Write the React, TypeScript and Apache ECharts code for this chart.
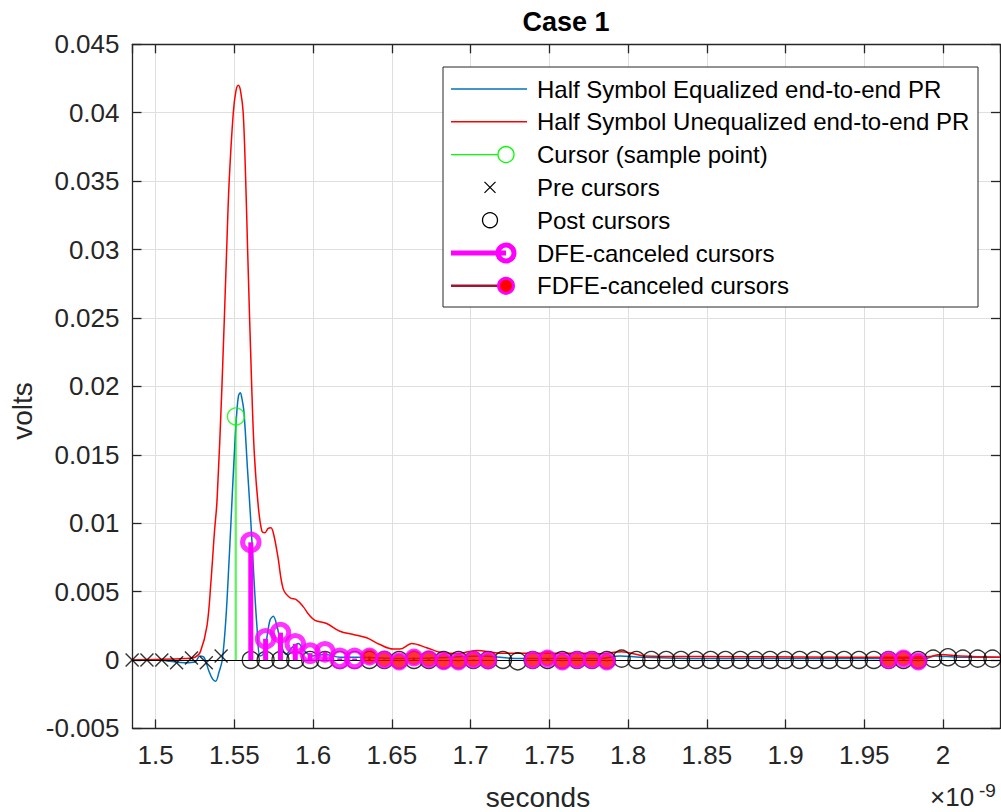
import React, { useEffect, useRef } from 'react';
import * as echarts from 'echarts';

const FONT = "'Liberation Sans', Arial, Helvetica, sans-serif";

const xMin = 1.4853;
const xMax = 2.0362;
const yMin = -0.005;
const yMax = 0.045;

// Half Symbol Equalized end-to-end PR (time in ns, volts)
const eqTime = [1.4853, 1.5027, 1.5091, 1.5186, 1.525, 1.5281, 1.5307, 1.5338, 1.5362, 1.5381, 1.5402, 1.5423, 1.5446, 1.5466, 1.5478, 1.5497, 1.5514, 1.5526, 1.5537, 1.5548, 1.5561, 1.5583, 1.5605, 1.5624, 1.5643, 1.5662, 1.5681, 1.57, 1.5726, 1.5747, 1.577, 1.5796, 1.5828, 1.5866, 1.5906, 1.5942, 1.5993, 1.6075, 1.6171, 1.6298, 1.6552, 1.6869, 1.706, 1.7314, 1.7822, 1.7949, 1.8076, 1.8457, 1.9092, 1.9727, 1.9886, 1.9949, 2.0108, 2.0362];
const eqVolts = [0, 0, -0.0001, -0.0002, -0.00015, 0.0003, 0.0002, -0.0008, -0.0014, -0.00155, -0.0009, 0, 0.003, 0.0072, 0.01, 0.0145, 0.0179, 0.0193, 0.01953, 0.0191, 0.0181, 0.014, 0.01, 0.006, 0.0025, 0.0003, 0.0004, 0.0012, 0.0029, 0.0032, 0.0025, 0.0012, 0.0004, 0.0009, 0.0012, 0.0007, 0.0003, 0.0004, 0.0002, 0.0002, 0.0001, 0.0002, 0.0003, 0.0001, 0.0001, 0.0003, 0.0002, 0.0001, 0.0001, 0.0001, 0.0001, 0.0003, 0.0002, 0.0002];

// Half Symbol Unequalized end-to-end PR
const uneqTime = [1.4853, 1.5186, 1.525, 1.5284, 1.5326, 1.5351, 1.5373, 1.539, 1.5421, 1.5451, 1.5467, 1.5493, 1.551, 1.5525, 1.5539, 1.5556, 1.5572, 1.5584, 1.561, 1.5627, 1.5652, 1.5675, 1.5694, 1.5713, 1.5732, 1.5751, 1.5777, 1.581, 1.5853, 1.5895, 1.5937, 1.5974, 1.6012, 1.6086, 1.617, 1.6255, 1.634, 1.6424, 1.6509, 1.6552, 1.6626, 1.6721, 1.6806, 1.6912, 1.7039, 1.7187, 1.7441, 1.7759, 1.7822, 1.7959, 1.8106, 1.8457, 1.9092, 1.9727, 1.9918, 1.9981, 2.0108, 2.0362];
const uneqVolts = [0, 0.0001, 0.0002, 0.0006, 0.0025, 0.0057, 0.0093, 0.0117, 0.02, 0.03, 0.035, 0.04, 0.0416, 0.042, 0.0416, 0.04, 0.035, 0.03, 0.02, 0.015, 0.0112, 0.0094, 0.0093, 0.0096, 0.00966, 0.0091, 0.0075, 0.0052, 0.00455, 0.0044, 0.0039, 0.0033, 0.0029, 0.00267, 0.0021, 0.00186, 0.00162, 0.00113, 0.0008, 0.0008, 0.0012, 0.0009, 0.00057, 0.00047, 0.0007, 0.0005, 0.0005, 0.0005, 0.00045, 0.0006, 0.0003, 0.00025, 0.00022, 0.0002, 0.00025, 0.0004, 0.0003, 0.0002];

// Cursor (sample point)
const cursorTime = [1.551];
const cursorVolts = [0.0178];

// Pre cursors
const preTimes = [1.48506, 1.49448, 1.5039, 1.51332, 1.52274, 1.53216, 1.54158];
const preVolts = [0, 0, 0, -0.0002, 0.00015, -0.0002, 0.0003];

// Post cursors
const postTimes = [1.56042, 1.56984, 1.57926, 1.58868, 1.5981, 1.60752, 1.61694, 1.62636, 1.63578, 1.6452, 1.65462, 1.66404, 1.67346, 1.68288, 1.6923, 1.70172, 1.71114, 1.72056, 1.72998, 1.7394, 1.74882, 1.75824, 1.76766, 1.77708, 1.7865, 1.79592, 1.80534, 1.81476, 1.82418, 1.8336, 1.84302, 1.85244, 1.86186, 1.87128, 1.8807, 1.89012, 1.89954, 1.90896, 1.91838, 1.9278, 1.93722, 1.94664, 1.95606, 1.96548, 1.9749, 1.98432, 1.99374, 2.00316, 2.01258, 2.022, 2.03142];
const postVolts = [0, 0, 0, 0, 0, 0, 0, 0, 0, 0, 0, 0, 0, 0, 0, 0, 0, 0, -0.0001, 0, 0, 0, 0, 0, 0, 0.0001, 0, 0, 0, 0, 0, 0, 0, 0, 0, 0, 0, 0, 0, 0, 0, 0, 0, 0, 0, 0, 0.0001, 0.0002, 0.0001, 0.0001, 0.0001];

// DFE-canceled cursors
const dfeTimes = [1.56042, 1.56984, 1.57926, 1.58868, 1.5981, 1.60752, 1.61694, 1.62636];
const dfeVolts = [0.0086, 0.00155, 0.002, 0.00118, 0.0005, 0.0006, 0.00012, 0.00011];

// FDFE-canceled cursors
const fdfeTimes = [1.63578, 1.6452, 1.65462, 1.66404, 1.67346, 1.68288, 1.6923, 1.70172, 1.71114, 1.7394, 1.74882, 1.75824, 1.76766, 1.77708, 1.7865, 1.96548, 1.9749, 1.98432];
const fdfeVolts = [0.00025, 0.00003, -0.0001, 0.00018, 0.00005, -0.00008, -0.0001, 0.00003, -0.00003, 0, 0.0001, -0.0001, 0, 0, -0.0001, 0, 0.0001, -0.0001];

const legendLabels = [
  'Half Symbol Equalized end-to-end PR',
  'Half Symbol Unequalized end-to-end PR',
  'Cursor (sample point)',
  'Pre cursors',
  'Post cursors',
  'DFE-canceled cursors',
  'FDFE-canceled cursors',
];

const BLUE = '#0072BD';
const RED = '#FF0000';
const GREEN = '#00FF00';
const MAGENTA = '#FF00FF';
const DARKRED = '#A2142F';
const AXIS = '#262626';
const GRID = '#DFDFDF';

const zip = (a: number[], b: number[]) => a.map((v, i) => [v, b[i]]);

function stemRender(stemColor: string, stemWidth: number) {
  return (params: any, api: any) => {
    const p = api.coord([api.value(0), api.value(1)]);
    const b = api.coord([api.value(0), 0]);
    return { type: 'line', shape: { x1: b[0], y1: b[1], x2: p[0], y2: p[1] }, style: { stroke: stemColor, lineWidth: stemWidth } };
  };
}

const crossSymbol = 'path://M0,0L10,10M10,0L0,10';

function buildLegend() {
  const x0 = 443, y0 = 67, w = 535, h = 240;
  const rowY0 = 89, rowStep = 32.8;
  const lx1 = 451, lx2 = 527, mx = 506, mx2 = 490, tx = 537;
  const els: any[] = [
    { type: 'rect', shape: { x: x0, y: y0, width: w, height: h }, style: { fill: '#fff', stroke: AXIS, lineWidth: 1 }, z: 100 },
  ];
  legendLabels.forEach((label, i) => {
    const y = rowY0 + i * rowStep;
    els.push({ type: 'text', x: tx, y, z: 101, style: { text: label, fill: '#000', font: `24px ${FONT}`, verticalAlign: 'middle', align: 'left' } });
    if (i === 0 || i === 1) {
      els.push({ type: 'line', z: 101, shape: { x1: lx1, y1: y, x2: lx2, y2: y }, style: { stroke: i === 0 ? BLUE : RED, lineWidth: 1.5 } });
    } else if (i === 2) {
      els.push({ type: 'line', z: 101, shape: { x1: lx1, y1: y, x2: mx, y2: y }, style: { stroke: GREEN, lineWidth: 1.3 } });
      els.push({ type: 'circle', z: 102, shape: { cx: mx, cy: y, r: 8 }, style: { fill: '#fff', stroke: GREEN, lineWidth: 1.3 } });
    } else if (i === 3) {
      const s = 5.5;
      els.push({ type: 'line', z: 101, shape: { x1: mx2 - s, y1: y - s, x2: mx2 + s, y2: y + s }, style: { stroke: '#000', lineWidth: 1.3 } });
      els.push({ type: 'line', z: 101, shape: { x1: mx2 - s, y1: y + s, x2: mx2 + s, y2: y - s }, style: { stroke: '#000', lineWidth: 1.3 } });
    } else if (i === 4) {
      els.push({ type: 'circle', z: 101, shape: { cx: mx2, cy: y, r: 7.5 }, style: { fill: 'none', stroke: '#000', lineWidth: 1.3 } });
    } else if (i === 5) {
      els.push({ type: 'line', z: 101, shape: { x1: lx1, y1: y, x2: mx, y2: y }, style: { stroke: MAGENTA, lineWidth: 5 } });
      els.push({ type: 'circle', z: 102, shape: { cx: mx, cy: y, r: 8 }, style: { fill: 'none', stroke: MAGENTA, lineWidth: 5 } });
    } else {
      els.push({ type: 'line', z: 101, shape: { x1: lx1, y1: y, x2: mx, y2: y }, style: { stroke: DARKRED, lineWidth: 2.5 } });
      els.push({ type: 'circle', z: 102, shape: { cx: mx, cy: y, r: 7.5 }, style: { fill: RED, stroke: MAGENTA, lineWidth: 3 } });
    }
  });
  return els;
}

const xLabelFmt = (v: number) => {
  const k = Math.round(v / 0.05);
  if (Math.abs(v - k * 0.05) > 1e-6) return '';
  return String(Number((k * 0.05).toFixed(2)));
};
const yLabelFmt = (v: number) => String(Number(v.toFixed(4)));

const baseX = {
  type: 'value',
  min: xMin,
  max: xMax,
  splitNumber: 10,
  minInterval: 0.05,
  maxInterval: 0.05,
};
const baseY = {
  type: 'value',
  min: yMin,
  max: yMax,
  interval: 0.005,
};

const option: any = {
  animation: false,
  backgroundColor: '#fff',
  grid: { left: 132.5, right: 1, top: 44.3, bottom: 83.6, containLabel: false },
  xAxis: [
    {
      ...baseX,
      position: 'bottom',
      axisLine: { show: true, onZero: false, lineStyle: { color: AXIS, width: 1.3 } },
      axisTick: { show: true, inside: true, length: 9, lineStyle: { color: AXIS, width: 1.3 } },
      axisLabel: { show: true, formatter: xLabelFmt, color: AXIS, fontSize: 26, fontFamily: FONT, margin: 14, showMinLabel: false, showMaxLabel: false },
      splitLine: { show: true, lineStyle: { color: GRID, width: 1 } },
    },
    {
      ...baseX,
      position: 'top',
      axisLine: { show: true, onZero: false, lineStyle: { color: AXIS, width: 1.3 } },
      axisTick: { show: true, inside: true, length: 9, lineStyle: { color: AXIS, width: 1.3 } },
      axisLabel: { show: false },
      splitLine: { show: false },
    },
  ],
  yAxis: [
    {
      ...baseY,
      position: 'left',
      axisLine: { show: true, onZero: false, lineStyle: { color: AXIS, width: 1.3 } },
      axisTick: { show: true, inside: true, length: 9, lineStyle: { color: AXIS, width: 1.3 } },
      axisLabel: { show: true, formatter: yLabelFmt, color: AXIS, fontSize: 26, fontFamily: FONT, margin: 13 },
      splitLine: { show: true, lineStyle: { color: GRID, width: 1 } },
    },
    {
      ...baseY,
      position: 'right',
      axisLine: { show: true, onZero: false, lineStyle: { color: AXIS, width: 1.3 } },
      axisTick: { show: true, inside: true, length: 9, lineStyle: { color: AXIS, width: 1.3 } },
      axisLabel: { show: false },
      splitLine: { show: false },
    },
  ],
  series: [
    {
      name: legendLabels[0],
      type: 'line',
      data: zip(eqTime, eqVolts),
      showSymbol: false,
      smooth: 0.35,
      lineStyle: { color: BLUE, width: 1.5 },
      z: 2,
    },
    {
      name: legendLabels[1],
      type: 'line',
      data: zip(uneqTime, uneqVolts),
      showSymbol: false,
      smooth: 0.35,
      lineStyle: { color: RED, width: 1.5 },
      z: 3,
      markLine: {
        silent: true,
        symbol: 'none',
        label: { show: false },
        lineStyle: { color: '#000', width: 1.2, type: 'solid' },
        data: [{ yAxis: 0 }],
      },
    },
    {
      type: 'custom',
      data: zip(cursorTime, cursorVolts),
      renderItem: stemRender(GREEN, 1.3),
      z: 4,
    },
    {
      name: legendLabels[2],
      type: 'scatter',
      data: zip(cursorTime, cursorVolts),
      symbol: 'circle',
      symbolSize: 17,
      clip: false,
      itemStyle: { color: 'rgba(0,0,0,0)', borderColor: GREEN, borderWidth: 1.4 },
      z: 4,
    },
    {
      name: legendLabels[3],
      type: 'scatter',
      data: zip(preTimes, preVolts),
      symbol: crossSymbol,
      symbolSize: 13,
      clip: false,
      itemStyle: { color: 'rgba(0,0,0,0)', borderColor: '#000', borderWidth: 1.4 },
      z: 5,
    },
    {
      name: legendLabels[4],
      type: 'scatter',
      data: zip(postTimes, postVolts),
      symbol: 'circle',
      symbolSize: 17,
      clip: false,
      itemStyle: { color: 'rgba(0,0,0,0)', borderColor: '#000', borderWidth: 1.4 },
      z: 6,
    },
    {
      type: 'custom',
      data: zip(dfeTimes, dfeVolts),
      renderItem: stemRender(MAGENTA, 5),
      z: 7,
    },
    {
      name: legendLabels[5],
      type: 'scatter',
      data: zip(dfeTimes, dfeVolts),
      symbol: 'circle',
      symbolSize: 16.5,
      clip: false,
      itemStyle: { color: 'rgba(0,0,0,0)', borderColor: MAGENTA, borderWidth: 5 },
      z: 7,
    },
    {
      type: 'custom',
      data: zip(fdfeTimes, fdfeVolts),
      renderItem: stemRender(DARKRED, 2.5),
      z: 8,
    },
    {
      name: legendLabels[6],
      type: 'scatter',
      data: zip(fdfeTimes, fdfeVolts),
      symbol: 'circle',
      symbolSize: 15,
      clip: false,
      itemStyle: { color: RED, borderColor: MAGENTA, borderWidth: 3 },
      z: 8,
    },
  ],
  graphic: [
    { type: 'text', x: 566, y: 22, z: 50, style: { text: 'Case 1', fill: '#000', font: `bold 27px ${FONT}`, align: 'center', verticalAlign: 'middle' } },
    { type: 'text', x: 538, y: 797, z: 50, style: { text: 'seconds', fill: AXIS, font: `28px ${FONT}`, align: 'center', verticalAlign: 'middle' } },
    { type: 'text', x: 22, y: 411, rotation: Math.PI / 2, z: 50, style: { text: 'volts', fill: AXIS, font: `28px ${FONT}`, align: 'center', verticalAlign: 'middle' } },
    { type: 'text', x: 930, y: 797, z: 50, style: { text: '×10', fill: AXIS, font: `26px ${FONT}`, align: 'left', verticalAlign: 'middle' } },
    { type: 'text', x: 979, y: 790, z: 50, style: { text: '-9', fill: AXIS, font: `19px ${FONT}`, align: 'left', verticalAlign: 'middle' } },
    ...buildLegend(),
  ],
};

export default function App() {
  const ref = useRef<HTMLDivElement>(null);
  useEffect(() => {
    if (!ref.current) return;
    const chart = echarts.init(ref.current, null, { renderer: 'svg' });
    chart.setOption(option);
    return () => {
      chart.dispose();
    };
  }, []);
  return <div ref={ref} style={{ position: 'fixed', left: 0, top: 0, width: 1001, height: 812, background: '#fff' }} />;
}
